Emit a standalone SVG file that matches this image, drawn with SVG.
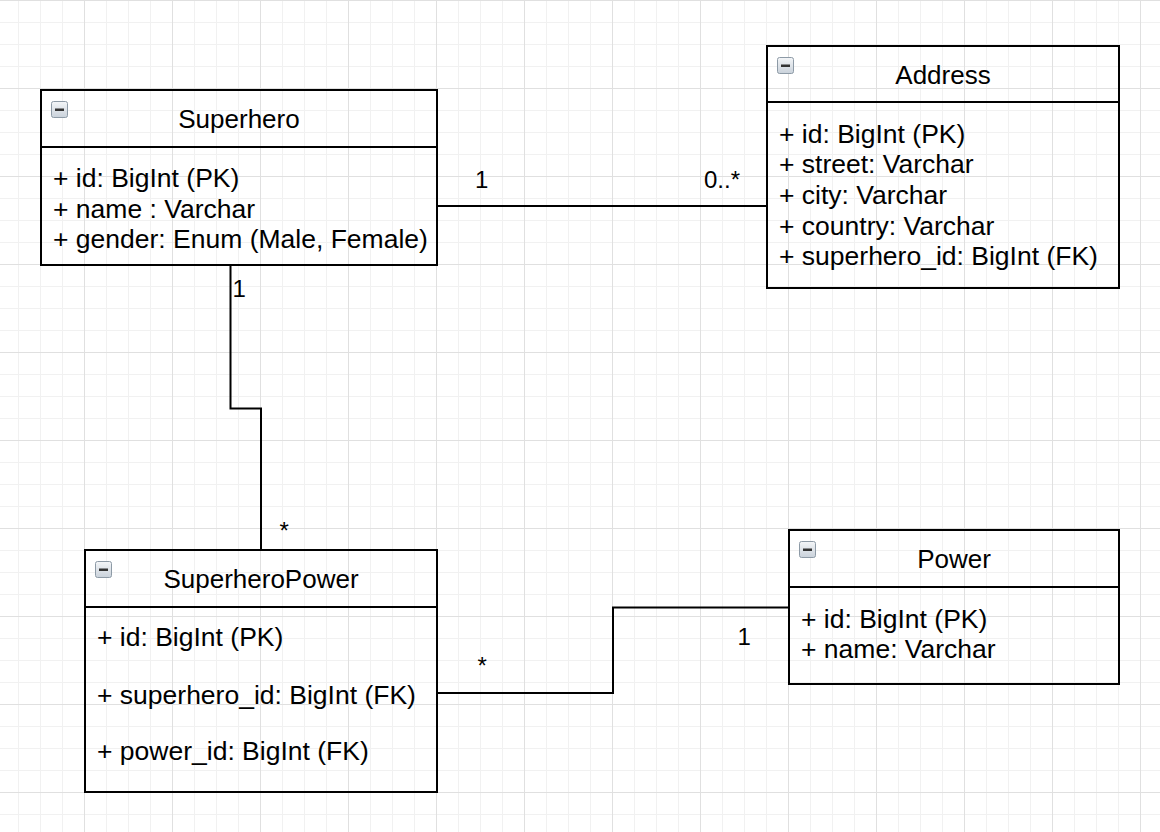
<svg xmlns="http://www.w3.org/2000/svg" width="1160" height="832" viewBox="0 0 1160 832">
  <style>
    .box{fill:none;stroke:#000;stroke-width:2}
    .conn{fill:none;stroke:#000;stroke-width:2}
    text{font-family:"Liberation Sans",Helvetica,Arial,sans-serif;fill:#000}
    .title{font-size:26px;text-anchor:middle}
    .attr{font-size:26.5px}
    .lbl{font-size:24px}
    .icon{fill:url(#iconGrad);stroke:#8d9aa6;stroke-width:1}
    .minus{fill:#333}
  </style>
  <defs>
    <pattern id="grid" patternUnits="userSpaceOnUse" x="84" y="0" width="88" height="88">
      <path d="M22.5 0V88M44.5 0V88M66.5 0V88M0 22.5H88M0 44.5H88M0 66.5H88" stroke="#f1f1f1" stroke-width="1" fill="none"/>
      <path d="M0.5 0V88M0 0.5H88" stroke="#e0e0e0" stroke-width="1" fill="none"/>
    </pattern>
    <linearGradient id="iconGrad" x1="0" y1="0" x2="0" y2="1">
      <stop offset="0" stop-color="#f4f6f8"/>
      <stop offset="1" stop-color="#c9d1da"/>
    </linearGradient>
  </defs>
  <rect x="0" y="0" width="1160" height="832" fill="#fff"/>
  <rect x="0" y="0" width="1160" height="832" fill="url(#grid)"/>

  <g id="connectors">
    <path class="conn" d="M437 206H767"/>
    <path class="conn" d="M230.5 265V408.5H261V550"/>
    <path class="conn" d="M437 693H613V607.5H789"/>
    <text class="lbl" x="475" y="188">1</text>
    <text class="lbl" x="704" y="188">0..*</text>
    <text class="lbl" x="232.5" y="297">1</text>
    <text class="lbl" x="279.5" y="539">*</text>
    <text class="lbl" x="477.5" y="673.5">*</text>
    <text class="lbl" x="737.5" y="645">1</text>
  </g>

  <g id="superhero">
    <rect class="box" x="41" y="90" width="396" height="175"/>
    <path class="box" d="M41 147H437"/>
    <rect class="icon" x="51.5" y="101.5" width="16" height="16" rx="2"/>
    <rect class="minus" x="55" y="108.5" width="9" height="2.5"/>
    <text class="title" x="239" y="128">Superhero</text>
    <text class="attr" x="53" y="187">+ id: BigInt (PK)</text>
    <text class="attr" x="53" y="217.5">+ name : Varchar</text>
    <text class="attr" x="53" y="248">+ gender: Enum (Male, Female)</text>
  </g>

  <g id="address">
    <rect class="box" x="767" y="46" width="352" height="242"/>
    <path class="box" d="M767 102H1119"/>
    <rect class="icon" x="777.5" y="57.5" width="16" height="16" rx="2"/>
    <rect class="minus" x="781" y="64.5" width="9" height="2.5"/>
    <text class="title" x="943" y="84">Address</text>
    <text class="attr" x="779" y="143">+ id: BigInt (PK)</text>
    <text class="attr" x="779" y="173">+ street: Varchar</text>
    <text class="attr" x="779" y="204">+ city: Varchar</text>
    <text class="attr" x="779" y="234.5">+ country: Varchar</text>
    <text class="attr" x="779" y="265">+ superhero_id: BigInt (FK)</text>
  </g>

  <g id="superheroPower">
    <rect class="box" x="85" y="550" width="352" height="242"/>
    <path class="box" d="M85 607H437"/>
    <rect class="icon" x="95.5" y="561.5" width="16" height="16" rx="2"/>
    <rect class="minus" x="99" y="568.5" width="9" height="2.5"/>
    <text class="title" x="261" y="588">SuperheroPower</text>
    <text class="attr" x="97" y="646">+ id: BigInt (PK)</text>
    <text class="attr" x="97" y="704">+ superhero_id: BigInt (FK)</text>
    <text class="attr" x="97" y="760">+ power_id: BigInt (FK)</text>
  </g>

  <g id="power">
    <rect class="box" x="789" y="530" width="330" height="154"/>
    <path class="box" d="M789 587H1119"/>
    <rect class="icon" x="799.5" y="541.5" width="16" height="16" rx="2"/>
    <rect class="minus" x="803" y="548.5" width="9" height="2.5"/>
    <text class="title" x="954" y="568">Power</text>
    <text class="attr" x="801" y="628">+ id: BigInt (PK)</text>
    <text class="attr" x="801" y="658">+ name: Varchar</text>
  </g>
</svg>
